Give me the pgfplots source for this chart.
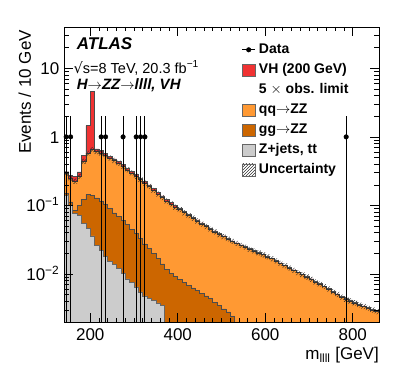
\documentclass[border=0pt]{standalone}
\usepackage{pgfplots}
\pgfplotsset{compat=1.18}
\usepackage{pgfplotstable}
\usepgfplotslibrary{fillbetween}
\usetikzlibrary{patterns}
\usepackage{fontspec}
\setmainfont{Liberation Sans}
\newfontfamily\djv{DejaVu Sans}

\definecolor{vhred}{RGB}{240,50,50}
\definecolor{qqorange}{RGB}{255,153,51}
\definecolor{ggorange}{RGB}{204,102,0}
\definecolor{zjgrey}{RGB}{204,204,204}

% cumulative stack heights per 10 GeV bin (left edge)
\pgfplotstableread{
x tot bkg gg zj
140 0.31 0.29 0.15 0.14
150 0.275 0.246 0.113 0.10
160 0.266 0.225 0.085 0.077
170 0.31 0.266 0.10 0.072
180 0.536 0.44 0.122 0.055
190 1.46 0.58 0.144 0.046
200 4.6 0.65 0.14 0.036
210 0.67 0.61 0.129 0.026
220 0.63 0.58 0.115 0.022
230 0.57 0.53 0.103 0.018
240 0.52 0.49 0.09 0.0155
250 0.479 0.452 0.078 0.014
260 0.437 0.412 0.07 0.012
270 0.394 0.372 0.061 0.0102
280 0.351 0.331 0.053 0.0085
290 0.316 0.298 0.045 0.0076
300 0.282 0.266 0.039 0.0065
310 0.251 0.237 0.033 0.0055
320 0.224 0.211 0.0275 0.0048
330 0.200 0.189 0.0234 0.0044
340 0.176 0.166 0.020 0.0041
350 0.155 0.146 0.017 0.0038
360 0.138 0.130 0.0141 0.0035
370 0.123 0.116 0.0117 0.00001
380 0.111 0.105 0.0102 0.00001
390 0.100 0.094 0.0093 0.00001
400 0.0902 0.0867 0.0083 0.00001
410 0.0813 0.0782 0.0076 0.00001
420 0.0741 0.0712 0.0069 0.00001
430 0.0676 0.065 0.0063 0.00001
440 0.0617 0.0593 0.0058 0.00001
450 0.0556 0.0535 0.0052 0.00001
460 0.0513 0.0493 0.0048 0.00001
470 0.0468 0.045 0.0044 0.00001
480 0.0427 0.0411 0.0039 0.00001
490 0.0389 0.0374 0.0035 0.00001
500 0.0359 0.0352 0.0031 0.00001
510 0.0331 0.0325 0.0028 0.00001
520 0.0305 0.0299 0.0024 0.00001
530 0.0285 0.0279 0.0019 0.00001
540 0.0266 0.0261 0.00001 0.00001
550 0.0251 0.0246 0.00001 0.00001
560 0.0234 0.0229 0.00001 0.00001
570 0.0221 0.0217 0.00001 0.00001
580 0.0207 0.0203 0.00001 0.00001
590 0.0195 0.0191 0.00001 0.00001
600 0.0182 0.0178 0.00001 0.00001
610 0.0170 0.0167 0.00001 0.00001
620 0.0158 0.0155 0.00001 0.00001
630 0.0146 0.0143 0.00001 0.00001
640 0.0135 0.0132 0.00001 0.00001
650 0.0124 0.0122 0.00001 0.00001
660 0.0115 0.0113 0.00001 0.00001
670 0.0107 0.0105 0.00001 0.00001
680 0.0100 0.0098 0.00001 0.00001
690 0.00923 0.00905 0.00001 0.00001
700 0.00851 0.00834 0.00001 0.00001
710 0.00785 0.0077 0.00001 0.00001
720 0.00724 0.0071 0.00001 0.00001
730 0.00668 0.00655 0.00001 0.00001
740 0.00617 0.00605 0.00001 0.00001
750 0.00562 0.00551 0.00001 0.00001
760 0.00513 0.00503 0.00001 0.00001
770 0.00468 0.00459 0.00001 0.00001
780 0.00437 0.00428 0.00001 0.00001
790 0.00412 0.00404 0.00001 0.00001
800 0.00389 0.00381 0.00001 0.00001
810 0.00363 0.00356 0.00001 0.00001
820 0.00343 0.00336 0.00001 0.00001
830 0.00324 0.00318 0.00001 0.00001
840 0.00305 0.00299 0.00001 0.00001
850 0.00288 0.00282 0.00001 0.00001
860 0.00288 0.00282 0.00001 0.00001
}\hist

\pgfplotstableread{
x y ep em
145 1 1 0.999
155 1 1 0.999
225 1 1 0.999
235 1 1 0.999
275 1 1 0.999
305 1 1 0.999
315 1 1 0.999
325 1 1 0.999
785 1 1 0.999
}\data

\begin{document}
\begin{tikzpicture}
\begin{axis}[
  at={(0,0)}, anchor=south west, scale only axis,
  width=315bp, height=295bp,
  set layers, axis on top,
  xmin=140, xmax=860,
  ymode=log, ymin=0.002, ymax=40,
  tick align=inside,
  major tick length=9bp, minor tick length=4.5bp,
  xtick={200,400,600,800}, xticklabels={200,400,600,800},
  minor x tick num=9,
  ytick={0.01,0.1,1,10},
  yticklabels={10\textsuperscript{−2},10\textsuperscript{−1},1,10},
  minor ytick={0.002,0.003,0.004,0.005,0.006,0.007,0.008,0.009,0.02,0.03,0.04,0.05,0.06,0.07,0.08,0.09,0.2,0.3,0.4,0.5,0.6,0.7,0.8,0.9,2,3,4,5,6,7,8,9,20,30,40},
  tick label style={font=\fontsize{17bp}{20bp}\selectfont},
  xticklabel style={inner sep=0pt, anchor=north, yshift=-6bp},
  yticklabel style={inner sep=0pt, anchor=base east, xshift=-4.5bp, yshift=-6.5bp},
  axis line style={line width=0.8bp},
  every tick/.style={black, line width=0.6bp},
  xlabel={m\textsubscript{llll} [GeV]},
  ylabel={Events / 10 GeV},
  label style={font=\fontsize{17bp}{20bp}\selectfont, inner sep=0pt},
  xlabel style={at={(axis description cs:1,-0.1288)}, anchor=base east},
  ylabel style={at={(axis description cs:-0.1048,0.99)}, anchor=base east, rotate=0},
  legend style={draw=none, fill=none, inner sep=0pt, outer sep=0pt,
    at={(axis description cs:0.5641,0.9464)}, anchor=north west,
    font=\bfseries\fontsize{14bp}{16bp}\selectfont,
    nodes={inner sep=0pt, text height=10.5bp, text depth=3.5bp},
    row sep=6bp,
    /tikz/every odd column/.append style={column sep=3.3bp}},
  legend cell align=left,
]
% baseline for fills
\addplot[name path=bot, draw=none, forget plot] coordinates {(140,0.001) (860,0.001)};
% stack levels
\addplot[name path=tot, const plot, draw=black!70, line width=0.5bp, forget plot] table[x=x,y=tot]{\hist};
\addplot[name path=bkg, const plot, draw=black!80, line width=0.6bp, forget plot] table[x=x,y=bkg]{\hist};
\addplot[name path=gg, const plot, draw=black!70, line width=0.5bp, forget plot] table[x=x,y=gg]{\hist};
\addplot[name path=zj, const plot, draw=black!60, line width=0.5bp, forget plot] table[x=x,y=zj]{\hist};
\addplot[name path=bup, const plot, draw=none, forget plot] table[x=x,y expr=\thisrow{bkg}*1.09]{\hist};
\addplot[name path=blo, const plot, draw=none, forget plot] table[x=x,y expr=\thisrow{bkg}*0.92]{\hist};
\addplot[fill=vhred, draw=none, forget plot] fill between[of=tot and bot];
\addplot[fill=qqorange, draw=none, forget plot] fill between[of=bkg and bot];
\addplot[fill=ggorange, draw=none, forget plot] fill between[of=gg and bot];
\addplot[fill=zjgrey, draw=none, forget plot] fill between[of=zj and bot];
\addplot[pattern=north east lines, pattern color=black!85, draw=none, forget plot] fill between[of=bup and blo];
% data
\addplot[only marks, mark=*, mark size=2.3bp, black, forget plot,
  error bars/.cd, y dir=both, y explicit, error mark=none,
  error bar style={line width=1bp, black}]
  table[x=x, y=y, y error plus=ep, y error minus=em]{\data};

% legend
\addlegendimage{legend image code/.code={\draw[black, line width=1bp] (0bp,0bp) -- (13bp,0bp); \fill[black] (6.5bp,0bp) circle (2.3bp);}}
\addlegendentry{Data}
\addlegendimage{legend image code/.code={\draw[fill=vhred, draw=black!60] (0bp,-6bp) rectangle (13bp,6bp);}}
\addlegendentry{VH (200 GeV)}
\addlegendimage{empty legend}
\addlegendentry{5 $\times$ obs. limit}
\addlegendimage{legend image code/.code={\draw[fill=qqorange, draw=black!60] (0bp,-6bp) rectangle (13bp,6bp);}}
\addlegendentry{qq$\rightarrow$ZZ}
\addlegendimage{legend image code/.code={\draw[fill=ggorange, draw=black!60] (0bp,-6bp) rectangle (13bp,6bp);}}
\addlegendentry{gg$\rightarrow$ZZ}
\addlegendimage{legend image code/.code={\draw[fill=zjgrey, draw=black!60] (0bp,-6bp) rectangle (13bp,6bp);}}
\addlegendentry{Z+jets, tt}
\addlegendimage{legend image code/.code={\draw[pattern=north east lines, draw=black!60] (0bp,-6bp) rectangle (13bp,6bp);}}
\addlegendentry{Uncertainty}

\node[anchor=base west, inner sep=0pt, font=\bfseries\itshape\fontsize{17bp}{20bp}\selectfont] at (rel axis cs:0.0403,0.922) {ATLAS};
\node[anchor=base west, inner sep=0pt, font=\fontsize{14.5bp}{17bp}\selectfont] at (rel axis cs:0.03,0.844) {{\djv √}s=8 TeV, 20.3 fb\textsuperscript{−1}};
\node[anchor=base west, inner sep=0pt, font=\bfseries\itshape\fontsize{15bp}{18bp}\selectfont] at (rel axis cs:0.0403,0.7864) {H$\rightarrow$ZZ$\rightarrow$llll, VH};
\end{axis}
\pgfresetboundingbox
\path[use as bounding box] (-64bp,-61bp) rectangle (335bp,322bp);
\end{tikzpicture}
\end{document}
